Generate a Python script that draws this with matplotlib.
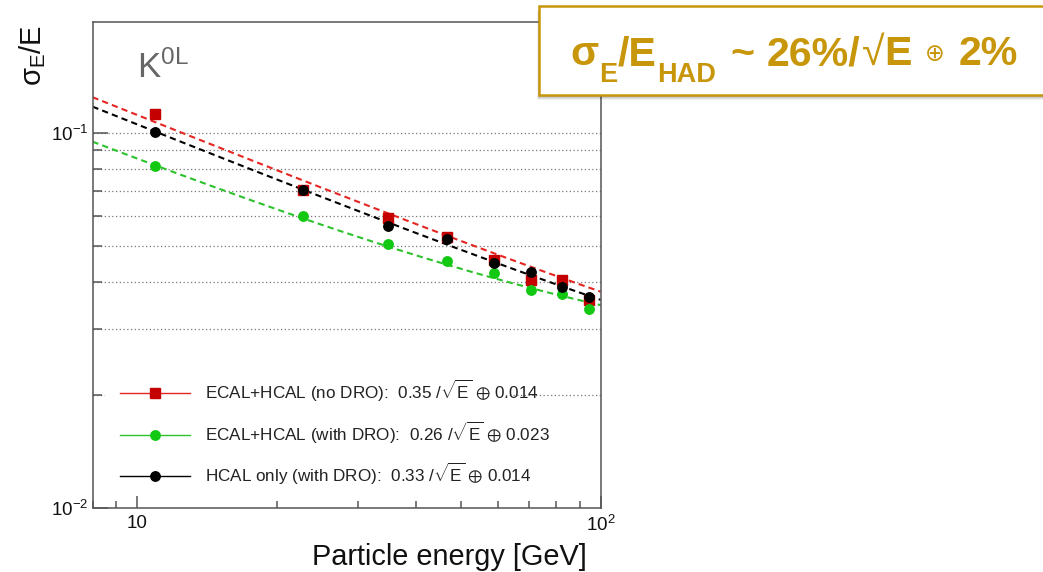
import numpy as np
import matplotlib
matplotlib.use("Agg")
import matplotlib.pyplot as plt
from matplotlib.lines import Line2D
from matplotlib.patches import Rectangle
from matplotlib.ticker import LogLocator, NullFormatter, FuncFormatter

plt.rcParams["font.family"] = ["Liberation Sans", "DejaVu Sans"]
plt.rcParams["mathtext.fontset"] = "custom"
plt.rcParams["mathtext.rm"] = "Liberation Sans"
plt.rcParams["mathtext.it"] = "Liberation Sans:italic"
plt.rcParams["mathtext.bf"] = "Liberation Sans:bold"
plt.rcParams["mathtext.default"] = "regular"

# Beam energies [GeV] and measured resolution sigma_E/E for K0L
energy = [10.9, 22.8, 34.8, 46.6, 58.7, 70.6, 82.6, 94.4]
res_no_dro = [0.112, 0.0706, 0.0593, 0.0529, 0.0459, 0.0404, 0.0406, 0.0359]
res_with_dro = [0.0814, 0.0599, 0.0505, 0.0454, 0.0423, 0.0382, 0.0372, 0.0339]
res_hcal_only = [0.1006, 0.0706, 0.0565, 0.0522, 0.0450, 0.0425, 0.0389, 0.0364]

# Fit parameters: a/sqrt(E) (+) b
series_names = ["ECAL+HCAL (no DRO)", "ECAL+HCAL (with DRO)", "HCAL only (with DRO)"]
stochastic = [0.35, 0.26, 0.33]
constant = [0.014, 0.023, 0.014]

marker_colors = ["#c40000", "#12c812", "#000000"]
line_colors = ["#e52521", "#2cc22c", "#000000"]
markers = ["s", "o", "o"]

W, H = 1043, 572
fig = plt.figure(figsize=(W / 100, H / 100), dpi=100)
ax = fig.add_axes([92.5 / W, 1 - 507.7 / H, (600.7 - 92.5) / W, (507.7 - 21.7) / H])
ax.set_xscale("log")
ax.set_yscale("log")
ax.set_xlim(8.0, 100)
ax.set_ylim(0.01, 0.198)

axis_grey = "#555555"
for sp in ax.spines.values():
    sp.set_color(axis_grey)
    sp.set_linewidth(1.1)


def log_label(v, pos):
    exp = int(round(np.log10(v)))
    if exp == 1:
        return "10"
    return f"$10^{{{exp}}}$"


ax.xaxis.set_major_locator(LogLocator(base=10))
ax.xaxis.set_minor_locator(LogLocator(base=10, subs=np.arange(2, 10)))
ax.yaxis.set_major_locator(LogLocator(base=10))
ax.yaxis.set_minor_locator(LogLocator(base=10, subs=np.arange(2, 10)))
ax.xaxis.set_major_formatter(FuncFormatter(log_label))
ax.yaxis.set_major_formatter(FuncFormatter(log_label))
ax.xaxis.set_minor_formatter(NullFormatter())
ax.yaxis.set_minor_formatter(NullFormatter())

ax.tick_params(which="both", direction="in", colors=axis_grey, labelcolor="#111111",
               top=False, right=False, labelsize=13.5)
ax.tick_params(axis="y", which="major", length=11, width=1.1, pad=3)
ax.tick_params(axis="y", which="minor", length=6.5, width=1.1)
ax.tick_params(axis="x", which="major", length=8.5, width=1.1, pad=5)
ax.tick_params(axis="x", which="minor", length=5, width=1.1)

ax.set_axisbelow(True)
ax.yaxis.grid(True, which="both", color="#777777", linestyle=(0, (1, 2)), linewidth=0.9)

# Fit curves
e_grid = np.geomspace(8.0, 100, 200)
for a, b, c in zip(stochastic, constant, line_colors):
    ax.plot(e_grid, np.sqrt(a ** 2 / e_grid + b ** 2), color=c, linestyle=(0, (3, 2)),
            linewidth=1.5, zorder=2)

# Measured points
for vals, mk, c in zip([res_no_dro, res_with_dro, res_hcal_only], markers, marker_colors):
    ms = 6.6 if mk == "s" else 6.8
    ax.plot(energy, vals, linestyle="none", marker=mk, markersize=ms,
            markerfacecolor=c, markeredgecolor=c, zorder=3)

# Legend with white background
ax.add_patch(Rectangle((0.0246, 0.03), 0.79, 0.26, transform=ax.transAxes,
                       facecolor="white", edgecolor="none", zorder=1))
handles = []
labels = []
for name, a, b, mk, c, lc in zip(series_names, stochastic, constant, markers,
                                 marker_colors, line_colors):
    ms = 6.6 if mk == "s" else 6.8
    handles.append(Line2D([], [], color=lc, linewidth=1.0, marker=mk, markersize=ms,
                          markerfacecolor=c, markeredgecolor=c))
    labels.append(f"{name}:  {a:.2f} /$\\sqrt{{E}}$ $\\oplus$ {b:.3f}")
leg = ax.legend(handles, labels, loc="upper left", bbox_to_anchor=(0.054, 0.266),
                frameon=False, fontsize=12.3, handlelength=4.1, handletextpad=0.85,
                labelspacing=0.88, borderpad=0, borderaxespad=0, numpoints=1)
for t in leg.get_texts():
    t.set_color("#222222")

# Labels
fig.text(587 / W, 1 - 565 / H, "Particle energy [GeV]", ha="right", va="baseline",
         fontsize=20.8, color="#111111")
fig.text(33 / W, 1 - 25 / H, r"$\sigma_{E}$/E", rotation=90, ha="center", va="top",
         fontsize=21, color="#111111")
fig.text(137 / W, 1 - 78 / H, r"K$^{0L}$", ha="left", va="baseline", fontsize=25,
         color="#666666")

# Summary box
gold = "#c8960a"
for k, alpha in enumerate([0.10, 0.12, 0.16, 0.22]):
    off = 5 - k
    fig.add_artist(Rectangle(((539.3 - off * 0.4) / W, 1 - (95 + off) / H),
                             520 / W, 89.3 / H, transform=fig.transFigure,
                             facecolor="#000000", alpha=alpha * 0.6, edgecolor="none",
                             zorder=5))
fig.add_artist(Rectangle((539.3 / W, 1 - 95 / H), 520 / W, 89.3 / H,
                         transform=fig.transFigure, facecolor="white", edgecolor=gold,
                         linewidth=1.8, zorder=6))

# Formula laid out run by run: (text, size pt, weight, baseline px, gap after px)
main_pt, sub_pt = 29.6, 19.5
box_runs = [
    ("σ", main_pt, "bold", 65, 1),
    ("E", sub_pt, "bold", 82, 0),
    ("/E", main_pt, "bold", 65, 1),
    ("HAD", sub_pt, "bold", 82, 15),
    ("~", main_pt, "bold", 65, 12),
    ("26%/", main_pt, "bold", 65, 1),
    ("√", main_pt, "normal", 65, 0),
    ("E", main_pt, "bold", 65, 13),
    ("⊕", 17, "normal", 61, 14),
    ("2%", main_pt, "bold", 65, 0),
]
renderer = fig.canvas.get_renderer()
x = 570.0
for s, size, weight, base, gap in box_runs:
    fam = ["DejaVu Sans"] if s == "⊕" else ["Liberation Sans", "DejaVu Sans"]
    t = fig.text(x / W, 1 - base / H, s, ha="left", va="baseline", fontsize=size,
                 fontweight=weight, family=fam, color=gold, zorder=7)
    bb = t.get_window_extent(renderer)
    x += bb.width + gap

fig.savefig("out.png", dpi=100, facecolor="white")
